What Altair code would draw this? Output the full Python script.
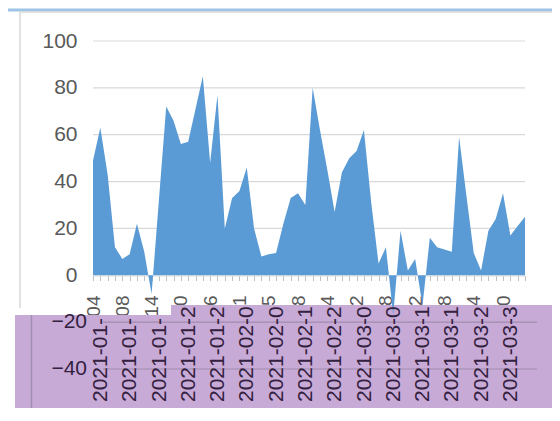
import json
import altair as alt
import pandas as pd

dates = [
    "2021-01-04", "2021-01-05", "2021-01-06", "2021-01-07", "2021-01-08",
    "2021-01-11", "2021-01-12", "2021-01-13", "2021-01-14", "2021-01-15",
    "2021-01-18", "2021-01-19", "2021-01-20", "2021-01-21", "2021-01-22",
    "2021-01-25", "2021-01-26", "2021-01-27", "2021-01-28", "2021-01-29",
    "2021-02-01", "2021-02-02", "2021-02-03", "2021-02-04", "2021-02-05",
    "2021-02-08", "2021-02-09", "2021-02-10", "2021-02-18", "2021-02-19",
    "2021-02-22", "2021-02-23", "2021-02-24", "2021-02-25", "2021-02-26",
    "2021-03-01", "2021-03-02", "2021-03-03", "2021-03-04", "2021-03-05",
    "2021-03-08", "2021-03-09", "2021-03-10", "2021-03-11", "2021-03-12",
    "2021-03-15", "2021-03-16", "2021-03-17", "2021-03-18", "2021-03-19",
    "2021-03-22", "2021-03-23", "2021-03-24", "2021-03-25", "2021-03-26",
    "2021-03-29", "2021-03-30", "2021-03-31", "2021-04-01", "2021-04-02",
]
values = [
    49, 63, 43, 12, 7, 9, 22, 10, -8, 32,
    72, 66, 56, 57, 71, 85, 48, 77, 20, 33,
    36, 46, 20, 8, 9, 9.5, 22, 33, 35, 30,
    80, 62, 45, 27, 44, 50, 53, 62, 31, 5,
    12, -17, 19, 2, 7, -13, 16, 12, 11, 10,
    59, 34, 9.5, 2, 19, 24, 35, 17, 21, 25,
]
y_ticks = [0, 20, 40, 60, 80, 100]
y_ticks_lower = [-20, -40]

n = len(dates)
df = pd.DataFrame({"idx": list(range(n)), "val": values, "date": dates})

label_idx = list(range(0, n, 4))
lab = pd.DataFrame({
    "idx": label_idx,
    "txt": [dates[i][:8] if i < 10 else dates[i][:9] for i in label_idx],
})

FONT = "Liberation Sans"
W, H = 544, 400
xs = alt.Scale(domain=[0, n - 1], range=[85, 517], nice=False, zero=False)
ys = alt.Scale(domain=[-40, 100], range=[361, 33], nice=False, zero=False)

label_expr = "datum.value % 4 == 0 ? " + json.dumps(dates) + "[datum.value] : ''"
x_axis = alt.Axis(
    values=list(range(n)), labelExpr=label_expr, labelAngle=270,
    labelAlign="right", labelBaseline="middle", labelPadding=14.5,
    labelFontSize=19, labelColor="#595959", labelFont=FONT,
    tickSize=5, tickColor="#BFBFBF", tickWidth=1,
    domainColor="#D9D9D9", domainWidth=1.2, grid=False,
    offset=-(H - 267.5), labelOverlap=False, labelFlush=False, labelBound=False,
    title=None)
y_axis = alt.Axis(
    values=y_ticks, offset=-85, ticks=False, tickSize=0, domain=False,
    grid=False, labelPadding=16, labelFontSize=21, labelColor="#595959",
    labelFont=FONT, title=None)

one = pd.DataFrame({"a": [0]})

# frame lines
blue_top = alt.Chart(one).mark_rule(color="#9DC3E6", strokeWidth=3).encode(
    x=alt.value(0), x2=alt.value(W), y=alt.value(2))
border_top = alt.Chart(one).mark_rule(color="#D9D9D9", strokeWidth=1.5).encode(
    x=alt.value(12), x2=alt.value(W), y=alt.value(4))
border_left = alt.Chart(one).mark_rule(color="#D9D9D9", strokeWidth=1.5).encode(
    x=alt.value(12), y=alt.value(4), y2=alt.value(300))

# gridlines
grid_df = pd.DataFrame({"v": y_ticks[1:], "x0": 0, "x1": n - 1})
grid = alt.Chart(grid_df).mark_rule(color="#D9D9D9", strokeWidth=1.2).encode(
    x=alt.X("x0:Q", scale=xs, axis=x_axis),
    x2="x1:Q",
    y=alt.Y("v:Q", scale=ys, axis=y_axis),
)

# purple overlay
rect_a = alt.Chart(one).mark_rect(color="#C8AAD7").encode(
    x=alt.value(7), x2=alt.value(164), y=alt.value(307), y2=alt.value(H))
rect_b = alt.Chart(one).mark_rect(color="#C8AAD7").encode(
    x=alt.value(163), x2=alt.value(W), y=alt.value(297), y2=alt.value(H))

area = alt.Chart(df).mark_area(color="#5B9BD5", interpolate="linear").encode(
    x=alt.X("idx:Q", scale=xs, axis=x_axis),
    y=alt.Y("val:Q", scale=ys, axis=y_axis),
)

# lower (purple) copy of the axes
lower_grid_df = pd.DataFrame({"v": y_ticks_lower, "x0": 0, "x1": n - 1})
lower_grid = alt.Chart(lower_grid_df).mark_rule(
    color="#9F8BAC", strokeWidth=1.2, xOffset=10, x2Offset=12).encode(
    x=alt.X("x0:Q", scale=xs, axis=x_axis),
    x2="x1:Q",
    y=alt.Y("v:Q", scale=ys, axis=y_axis),
)
lower_ylab = alt.Chart(lower_grid_df).mark_text(
    align="right", baseline="middle", fontSize=21, font=FONT, color="#33213F").encode(
    x=alt.value(79),
    y=alt.Y("v:Q", scale=ys, axis=y_axis),
    text=alt.Text("v:Q"),
)
lower_vline = alt.Chart(one).mark_rule(color="#A38FB2", strokeWidth=1.5).encode(
    x=alt.value(23.5), y=alt.value(307), y2=alt.value(H))
lower_xlab = alt.Chart(lab).mark_text(
    angle=270, align="left", baseline="middle", fontSize=21, font=FONT,
    color="#33213F", xOffset=8).encode(
    x=alt.X("idx:Q", scale=xs, axis=x_axis),
    y=alt.value(394),
    text="txt:N",
)

chart = alt.layer(
    blue_top, border_top, border_left, grid, rect_a, rect_b, area,
    lower_vline, lower_grid, lower_ylab, lower_xlab,
).properties(
    width=W, height=H, autosize="none", padding=0, background="white",
).configure_view(stroke=None)

chart.save("out.html", embed_options={"renderer": "svg", "actions": False})
